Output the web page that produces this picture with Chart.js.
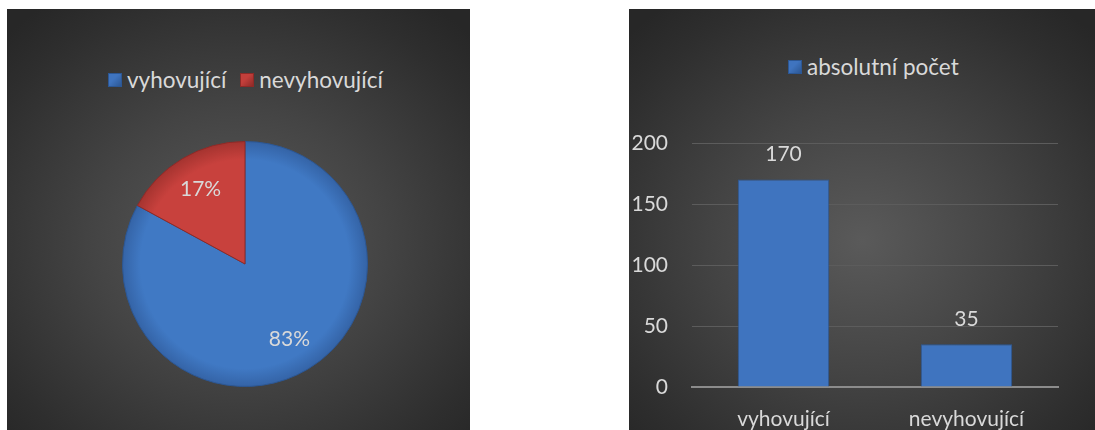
<!DOCTYPE html>
<html><head><meta charset="utf-8">
<script src="https://cdn.jsdelivr.net/npm/chart.js@4/dist/chart.umd.min.js"></script>
<style>
html,body{margin:0;padding:0;background:#fff;width:1095px;height:430px;overflow:hidden;font-family:Lato,"Liberation Sans",sans-serif;}
.panel{position:absolute;top:9px;height:421px;background:radial-gradient(ellipse 70% 70% at 50% 55%,#5a5a5a 0%,#444 45%,#2e2e2e 85%,#272727 100%);}
#p1{left:7px;width:463px;}
#p2{left:629px;width:466px;}
.legend{position:absolute;display:flex;align-items:center;color:#d9d9d9;font-size:22.5px;white-space:nowrap;}
.sw{display:inline-block;width:14px;height:14px;margin-right:5px;box-sizing:border-box;}
canvas{position:absolute;left:0;top:0;}
</style></head>
<body>
<div class="panel" id="p1">
  <div class="legend" id="leg1" style="left:101px;top:57px;"></div>
  <canvas id="c1" width="463" height="421"></canvas>
</div>
<div class="panel" id="p2">
  <div class="legend" id="leg2" style="left:159px;top:44px;"></div>
  <canvas id="c2" width="466" height="421"></canvas>
</div>
<script>
const categories = ["vyhovující", "nevyhovující"];
const counts = [170, 35];
const seriesName = "absolutní počet";
const yTicks = [0, 50, 100, 150, 200];

const BLUE = "#3f74bf", BLUE_B = "#2c5794";
const RED = "#c33f3b", RED_B = "#8e2a27";
const TXT = "#d9d9d9";
const FONT = "Lato, 'Liberation Sans', sans-serif";

function sw(c,b){return '<span class="sw" style="background:linear-gradient(135deg,'+c+' 40%,'+b+');border:1px solid '+b+'"></span>';}
document.getElementById('leg1').innerHTML =
  sw(BLUE,BLUE_B)+'<span>'+categories[0]+'</span><span style="width:14px"></span>'+sw(RED,RED_B)+'<span>'+categories[1]+'</span>';
document.getElementById('leg2').innerHTML = sw(BLUE,BLUE_B)+'<span>'+seriesName+'</span>';

const total = counts.reduce((a,b)=>a+b,0);

const PIE_BASE = ["#4079c4", "#c8413d"];
const PIE_EDGE = ["#3463a6", "#a4332f"];
function pieFill(c){
  const i = c.dataIndex || 0;
  const ch = c.chart; const a = ch.chartArea;
  if(!a) return PIE_BASE[i];
  const cx=(a.left+a.right)/2, cy=(a.top+a.bottom)/2, r=Math.min(a.right-a.left,a.bottom-a.top)/2;
  const g = ch.ctx.createRadialGradient(cx,cy,0,cx,cy,r);
  g.addColorStop(0,PIE_BASE[i]); g.addColorStop(0.85,PIE_BASE[i]); g.addColorStop(1,PIE_EDGE[i]);
  return g;
}

const pieLabels = {
  id:'pieLabels',
  afterDatasetsDraw(chart){
    const ctx = chart.ctx;
    const meta = chart.getDatasetMeta(0);
    ctx.save();
    ctx.fillStyle = TXT; ctx.font = "21px "+FONT; ctx.textAlign="center"; ctx.textBaseline="middle";
    meta.data.forEach((arc,i)=>{
      const mid = (arc.startAngle+arc.endAngle)/2;
      const r = arc.outerRadius*0.71;
      const x = arc.x + Math.cos(mid)*r, y = arc.y + Math.sin(mid)*r;
      ctx.fillText(Math.round(counts[i]/total*100)+"%", x, y);
    });
    ctx.restore();
  }
};

new Chart(document.getElementById('c1'), {
  type:'pie',
  data:{labels:categories, datasets:[{data:counts,
    backgroundColor:pieFill,
    borderColor:[BLUE_B,RED_B], borderWidth:1}]},
  options:{
    responsive:false, animation:false,
    layout:{padding:{left:115,right:102,top:132,bottom:43}},
    plugins:{legend:{display:false}, tooltip:{enabled:false}}
  },
  plugins:[pieLabels]
});

const barLabels = {
  id:'barLabels',
  afterDatasetsDraw(chart){
    const ctx = chart.ctx;
    const meta = chart.getDatasetMeta(0);
    ctx.save();
    ctx.fillStyle = TXT; ctx.font = "21px "+FONT; ctx.textAlign="center"; ctx.textBaseline="middle";
    meta.data.forEach((bar,i)=>{ ctx.fillText(String(counts[i]), bar.x, bar.y-25); });
    ctx.restore();
  }
};

new Chart(document.getElementById('c2'), {
  type:'bar',
  data:{labels:categories, datasets:[{label:seriesName, data:counts, backgroundColor:BLUE, borderColor:BLUE_B, borderWidth:1, categoryPercentage:0.5, barPercentage:1}]},
  options:{
    responsive:false, animation:false,
    layout:{padding:{left:0,right:37,top:134,bottom:0}},
    plugins:{legend:{display:false}, tooltip:{enabled:false}},
    scales:{
      y:{min:0,max:200,
         afterBuildTicks(s){ s.ticks = yTicks.map(v=>({value:v})); },
         afterFit(s){ s.width = 63; },
         ticks:{color:TXT,font:{size:21,family:FONT},padding:24},
         grid:{color:"#5c5c5c",lineWidth:1,drawTicks:false},
         border:{display:false}},
      x:{afterFit(s){ s.height = 43; },
         ticks:{color:TXT,font:{size:21,family:FONT},padding:20},
         grid:{display:false,drawTicks:false},
         border:{display:true,color:"#8c8c8c",width:2}}
    }
  },
  plugins:[barLabels]
});
</script>
</body></html>
